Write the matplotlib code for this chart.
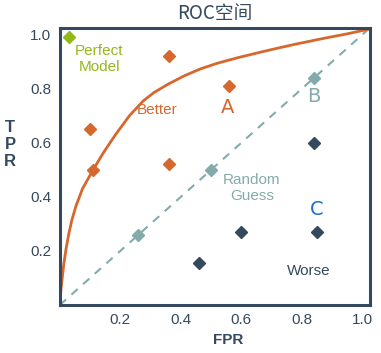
import matplotlib
matplotlib.use('Agg')
import matplotlib.pyplot as plt

plt.rcParams['font.family'] = ['Liberation Sans', 'Noto Sans CJK SC', 'DejaVu Sans']

# ROC curve
fpr_curve = [0, 0.004, 0.013, 0.021, 0.03, 0.04, 0.053, 0.075, 0.11, 0.145, 0.184,
             0.23, 0.276, 0.31, 0.355, 0.41, 0.464, 0.52, 0.589, 0.67, 0.72, 0.78,
             0.88, 0.95, 1.02]
tpr_curve = [0, 0.06, 0.15, 0.21, 0.265, 0.315, 0.365, 0.43, 0.50, 0.565, 0.63,
             0.70, 0.755, 0.785, 0.815, 0.847, 0.873, 0.894, 0.915, 0.937, 0.95, 0.965,
             0.988, 1.003, 1.02]

# Diagonal (random guess)
diag = [0, 1.02]

# Points
perfect_x, perfect_y = [0.03], [0.99]
better_x = [0.36, 0.56, 0.10, 0.11, 0.36]
better_y = [0.92, 0.81, 0.65, 0.50, 0.52]
random_x = [0.84, 0.50, 0.26]
random_y = [0.84, 0.50, 0.26]
worse_x = [0.84, 0.60, 0.85, 0.46]
worse_y = [0.60, 0.27, 0.27, 0.155]

c_dark = '#34495e'
c_orange = '#d6682d'
c_green = '#93b81a'
c_teal = '#84abab'
c_blue = '#1a6fc9'

fig = plt.figure(figsize=(3.81, 3.53), dpi=100)
ax = fig.add_axes([0.157, 0.136, 0.814, 0.785])

ax.plot(diag, diag, linestyle=(0, (4, 3.5)), color=c_teal, linewidth=1.5)
ax.plot(fpr_curve, tpr_curve, color=c_orange, linewidth=2, solid_joinstyle='round')

ax.plot(perfect_x, perfect_y, 'D', color=c_green, markersize=6.5)
ax.plot(better_x, better_y, 'D', color=c_orange, markersize=6.5)
ax.plot(random_x, random_y, 'D', color=c_teal, markersize=6.5)
ax.plot(worse_x, worse_y, 'D', color=c_dark, markersize=6.5)

# Annotations
ax.text(0.13, 0.91, 'Perfect\nModel', color=c_green, fontsize=11, ha='center', va='center', linespacing=1.2)
ax.text(0.32, 0.72, 'Better', color=c_orange, fontsize=11, ha='center', va='center')
ax.text(0.555, 0.73, 'A', color=c_orange, fontsize=14, ha='center', va='center', family='DejaVu Sans')
ax.text(0.84, 0.77, 'B', color=c_teal, fontsize=14, ha='center', va='center', family='DejaVu Sans')
ax.text(0.635, 0.433, 'Random\nGuess', color=c_teal, fontsize=11, ha='center', va='center', linespacing=1.2)
ax.text(0.85, 0.352, 'C', color=c_blue, fontsize=14, ha='center', va='center', family='DejaVu Sans')
ax.text(0.823, 0.126, 'Worse', color=c_dark, fontsize=11, ha='center', va='center')

ax.set_xlim(0, 1.025)
ax.set_ylim(0, 1.025)
ax.set_xticks([0.2, 0.4, 0.6, 0.8, 1.0])
ax.set_yticks([0.2, 0.4, 0.6, 0.8, 1.0])
ax.set_xticklabels(['0.2', '0.4', '0.6', '0.8', '1.0'])
ax.set_yticklabels(['0.2', '0.4', '0.6', '0.8', '1.0'])
ax.tick_params(length=0, labelsize=11, labelcolor=c_dark, pad=6)

for s in ax.spines.values():
    s.set_color(c_dark)
    s.set_linewidth(2.2)

fig.text(0.565, 0.963, 'ROC空间', ha='center', va='center', fontsize=13.5,
         color=c_dark, family=['Noto Sans CJK SC', 'DejaVu Sans'])
fig.text(0.6, 0.037, 'FPR', ha='center', va='center', fontsize=11, color=c_dark, weight='bold')
fig.text(0.027, 0.59, 'T\nP\nR', ha='center', va='center', fontsize=12, color=c_dark,
         weight='bold', linespacing=1.15)

fig.savefig('out.png', dpi=100)
